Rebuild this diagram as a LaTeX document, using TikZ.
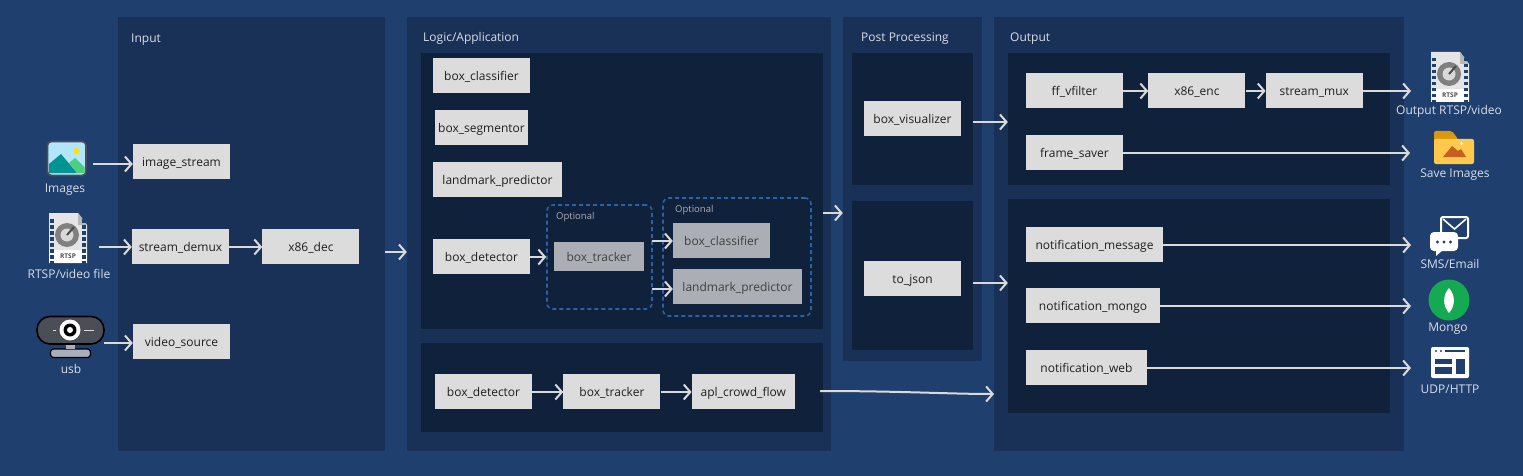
\documentclass[tikz,border=0pt]{standalone}
\usepackage{fontspec}
\setmainfont{Open Sans}
\usetikzlibrary{positioning,arrows.meta}
\definecolor{bgblue}{HTML}{1F3F6E}
\definecolor{panelblue}{HTML}{1A3157}
\definecolor{innerblue}{HTML}{10213B}
\definecolor{dashblue}{HTML}{2A62A8}
\definecolor{boxgray}{HTML}{DCDCDC}
\definecolor{dimgray}{HTML}{ABAEB4}
\definecolor{labelgray}{HTML}{D9DEE6}
\definecolor{flowgray}{HTML}{DADADA}
\definecolor{camdark}{HTML}{4A4F57}
\definecolor{cambase}{HTML}{A9AEBB}
\definecolor{foldertab}{HTML}{D9990F}
\definecolor{folderbody}{HTML}{FFC94D}
\definecolor{foldermount}{HTML}{C4601F}
\definecolor{leafgreen}{HTML}{13AA52}
\tikzset{
  pics/rtspfile/.style={code={
    \fill[white!90!black] (-19,-25) -- (10,-25) -- (19,-13) -- (19,25) -- (-19,25) -- cycle;
    \fill[white!72!black] (10,-25) -- (19,-13) -- (10,-13) -- cycle;
    \fill[white] (-19,12) rectangle (19,25);
    \foreach \row in {-19,-13,...,23} {
      \fill[bgblue] (-18,\row) rectangle (-14,\row+3.5);
      \fill[bgblue] (14,\row) rectangle (18,\row+3.5);
    }
    \fill[gray] (-1,-3) circle (12);
    \fill[white!85!black] (-1,-3) circle (6.5);
    \draw[gray!60!black,line width=2] (-1,-3) -- (6,-11);
    \node[inner sep=0,text height=5,text depth=0,font=\bfseries\fontsize{6.5}{7}\selectfont,text=black!70] (-tag) at (0,18) {RTSP};
  }},
}
\begin{document}
\begin{tikzpicture}[x=1pt,y=-1pt,
      every node/.style={inner sep=0,text height=12,text depth=2.5,font=\fontsize{12}{14}\selectfont},
      panel/.style={fill=panelblue},
      inner/.style={fill=innerblue},
      box/.style={fill=boxgray,text=black!88,minimum width=97,minimum height=35},
      wide/.style={box,minimum width=129},
      dim/.style={fill=dimgray,text=black!75,minimum width=97,minimum height=35},
      title/.style={text=labelgray,anchor=west},
      caption/.style={text=labelgray},
      optional/.style={draw=dashblue,line width=1.6,dash pattern=on 4pt off 3pt,rounded corners=6,minimum width=105},
      flow/.style={draw=flowgray,line width=2,-{Straight Barb[length=6.5,width=15,line width=2]}}]
  \useasboundingbox (0,0) rectangle (1523,476);
  \fill[bgblue] (0,0) rectangle (1523,476);
  % panels
  \node[panel,minimum width=267,minimum height=434] (input) at (251.5,234) {};
  \node[panel,minimum width=424,minimum height=434] (logic) at (619,234) {};
  \node[panel,minimum width=139,minimum height=344] (post) at (912.5,189) {};
  \node[panel,minimum width=410,minimum height=434] (output) at (1199,234) {};
  \node[inner,minimum width=402,minimum height=276] (logictop) at (622,191) {};
  \node[inner,minimum width=402,minimum height=89] (logicbottom) at (622,387.5) {};
  \node[inner,minimum width=121,minimum height=132] (postvisual) at (912.5,119) {};
  \node[inner,minimum width=121,minimum height=149] (postjson) at (912.5,275.5) {};
  \node[inner,minimum width=382,minimum height=132] (outvideo) at (1199,119) {};
  \node[inner,minimum width=382,minimum height=214] (outnotify) at (1199,306) {};
  \node[title] (inputtitle) at (131,38) {Input};
  \node[title] (logictitle) at (423,37) {Logic/Application};
  \node[title] (posttitle) at (861,37) {Post Processing};
  \node[title] (outputtitle) at (1010,37) {Output};
  % input
  \node[box] (imagestream) at (181.5,161.5) {image\_stream};
  \node[box] (demux) at (180.5,246.5) {stream\_demux};
  \node[box,right=33 of demux] (dec) {x86\_dec};
  \node[box] (videosource) at (181.5,341.5) {video\_source};
  % logic, top
  \node[box] (classifier) at (481.5,75.5) {box\_classifier};
  \node[box,minimum width=93] (segmentor) at (481.5,127.5) {box\_segmentor};
  \node[wide] (landmark) at (497.5,179.5) {landmark\_predictor};
  \node[box] (detector) at (481.5,256.5) {box\_detector};
  \node[optional,minimum height=104] (optionala) at (599.5,257) {};
  \node[optional,minimum width=148,minimum height=118] (optionalb) at (737,257) {};
  \node[caption,anchor=west,font=\fontsize{9.5}{11}\selectfont,text=dimgray,text height=8] (optionalatitle) at (556,216.5) {Optional};
  \node[caption,anchor=west,font=\fontsize{9.5}{11}\selectfont,text=dimgray,text height=8] (optionalbtitle) at (675,210) {Optional};
  \node[dim,minimum width=90,minimum height=29] (tracker) at (599,256.5) {box\_tracker};
  \node[dim] (classifierb) at (721.5,240.5) {box\_classifier};
  \node[dim,minimum width=129] (landmarkb) at (737.5,286.5) {landmark\_predictor};
  % logic, bottom
  \node[box] (detectorb) at (483.5,391.5) {box\_detector};
  \node[box,right=31 of detectorb] (trackerb) {box\_tracker};
  \node[box,minimum width=103,right=31 of trackerb] (crowd) {apl\_crowd\_flow};
  % post processing
  \node[box] (visualizer) at (912.5,118.5) {box\_visualizer};
  \node[box] (json) at (912.5,278.5) {to\_json};
  % output
  \node[box] (vfilter) at (1074.5,90.5) {ff\_vfilter};
  \node[box,right=25 of vfilter] (enc) {x86\_enc};
  \node[box,right=20 of enc] (mux) {stream\_mux};
  \node[box] (saver) at (1074.5,152.5) {frame\_saver};
  \node[box,minimum width=137] (message) at (1094.5,244.5) {notification\_message};
  \node[box,minimum width=134] (mongo) at (1093,305.5) {notification\_mongo};
  \node[box,minimum width=121] (web) at (1086.5,367.5) {notification\_web};
  % images icon
  \draw[camdark,line width=1.6,fill=cyan!30!white,rounded corners=4] (47.5,141.5) rectangle (86,175.5);
  \fill[teal!85!cyan] (49,173) -- (49,164) -- (61,154) -- (77,173) -- cycle;
  \fill[teal!55!green!70!white] (69,163) -- (75,158) -- (84.5,167) -- (84.5,173) -- (77,173) -- cycle;
  \fill[yellow!85!orange] (76.5,151) circle (3);
  \node[caption] (imagescap) at (65,188) {Images};
  % video file icon
  \pic (infile) at (68,238) {rtspfile};
  \node[caption] (infilecap) at (69,273.5) {RTSP/video file};
  % webcam
  \fill[cambase,draw=black,line width=1.2,rounded corners=3] (50.5,349) rectangle (90.5,357.5);
  \fill[cambase] (66,344) rectangle (75,349);
  \fill[camdark,draw=black,line width=1.6,rounded corners=13] (37,316.5) rectangle (104,344);
  \fill[white] (70,330) circle (10.5);
  \fill[black] (70,330) circle (6.5);
  \fill[white] (70,330) circle (3);
  \draw[white!85!black,line width=1] (53,330) -- (56,330) (84,330) -- (94,330);
  \node[caption] (usbcap) at (71,369) {usb};
  % output file icon
  \pic (outfile) at (1450,77) {rtspfile};
  \node[caption] (outfilecap) at (1449,110) {Output RTSP/video};
  % folder
  \fill[foldertab,rounded corners=2] (1434,131) -- (1452,131) -- (1458,139) -- (1458,142) -- (1434,142) -- cycle;
  \fill[folderbody,rounded corners=2] (1434,139) rectangle (1474,164);
  \fill[foldermount] (1443,157) -- (1452,146) -- (1458,151) -- (1461,149) -- (1466,157) -- cycle;
  \fill[white] (1461.5,143.5) circle (1.6);
  \node[caption] (foldercap) at (1455,173) {Save Images};
  % sms and mail
  \draw[white,line width=2,rounded corners=2] (1441,217) rectangle (1468,238);
  \draw[white,line width=1.6] (1443,219) -- (1454.5,229) -- (1466,219);
  \fill[white,rounded corners=4] (1430,232) rectangle (1458,251);
  \fill[white] (1436,250) -- (1436,256) -- (1443,250) -- cycle;
  \foreach \dotx in {1437.5,1444,1450.5} \fill[bgblue] (\dotx,242) circle (1.7);
  \node[caption] (smscap) at (1450,264) {SMS/Email};
  % mongo
  \fill[leafgreen] (1449,300) circle (20.5);
  \fill[white] (1449,288) .. controls (1456,296) and (1455,306) .. (1449,313) .. controls (1443,306) and (1442,296) .. (1449,288);
  \node[caption] (mongocap) at (1448,327) {Mongo};
  % window
  \fill[white,rounded corners=2] (1431,347) rectangle (1469,378);
  \fill[bgblue] (1445,350) rectangle (1465,352);
  \fill[bgblue] (1436,351) circle (1.2) (1441,351) circle (1.2);
  \fill[bgblue] (1435,359) rectangle (1452,363.5);
  \fill[bgblue] (1435,367) rectangle (1452,374);
  \fill[bgblue] (1456,359) rectangle (1465,374);
  \node[caption] (webcap) at (1450,389) {UDP/HTTP};
  % free ends
  \coordinate (imagesout) at (93,164);
  \coordinate (fileout) at (99,247);
  \coordinate (usbout) at (104,343);
  \coordinate (inputout) at (385,252);
  \coordinate (detectorout) at (530,257);
  \coordinate (optaout) at (652,241);
  \coordinate (optbout) at (652,289);
  \coordinate (logicout) at (823,213);
  \coordinate (visualout) at (973,122);
  \coordinate (jsonout) at (973,283);
  \coordinate (crowdout) at (820,391);
  \coordinate (crowdin) at (994,394);
  \coordinate (muxend) at (1411,91);
  \coordinate (saverend) at (1410,153);
  \coordinate (messageend) at (1411,245);
  \coordinate (mongoend) at (1411,306);
  \coordinate (webend) at (1411,368);
  % connectors
  \draw[flow] (imagesout) -- (imagesout -| imagestream.west);
  \draw[flow] (fileout) -- (fileout -| demux.west);
  \draw[flow] (usbout) -- (usbout -| videosource.west);
  \draw[flow] ([yshift=-.5pt]demux.east) -- ([yshift=-.5pt]dec.west);
  \draw[flow] (inputout) -- (inputout -| logic.west);
  \draw[flow] (detectorout) -- (detectorout -| optionala.west);
  \draw[flow] (optaout) -- (optaout -| classifierb.west);
  \draw[flow] (optbout) -- (optbout -| landmarkb.west);
  \draw[flow] (logicout) -- (logicout -| post.west);
  \draw[flow] ([yshift=-.5pt]detectorb.east) -- ([yshift=-.5pt]trackerb.west);
  \draw[flow] ([yshift=-.5pt]trackerb.east) -- ([yshift=-.5pt]crowd.west);
  \draw[flow] (visualout) -- (visualout -| outvideo.west);
  \draw[flow] (jsonout) -- (jsonout -| outnotify.west);
  \draw[flow] (crowdout) .. controls (900,391) and (950,394) .. (crowdin);
  \draw[flow] ([yshift=-.5pt]vfilter.east) -- ([yshift=-.5pt]enc.west);
  \draw[flow] ([yshift=-.5pt]enc.east) -- ([yshift=-.5pt]mux.west);
  \draw[flow] ([yshift=-.5pt]mux.east) -- (muxend);
  \draw[flow] ([yshift=-.5pt]saver.east) -- (saverend);
  \draw[flow] ([yshift=-.5pt]message.east) -- (messageend);
  \draw[flow] ([yshift=-.5pt]mongo.east) -- (mongoend);
  \draw[flow] ([yshift=-.5pt]web.east) -- (webend);
\end{tikzpicture}
\end{document}
